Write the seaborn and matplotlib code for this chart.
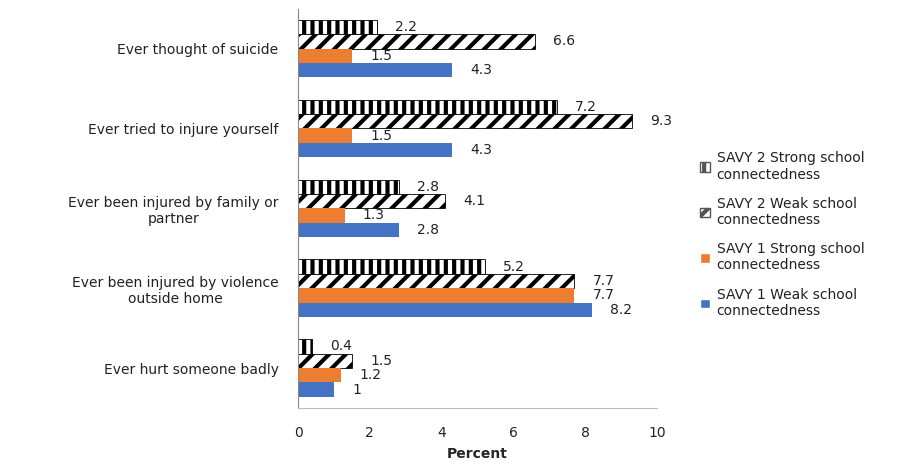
import matplotlib.pyplot as plt
import pandas as pd
import seaborn as sns

categories = ['Ever thought of suicide', 'Ever tried to injure yourself',
              'Ever been injured by family or\npartner',
              'Ever been injured by violence\noutside home',
              'Ever hurt someone badly']
series = ['SAVY 2 Strong school\nconnectedness', 'SAVY 2 Weak school\nconnectedness',
          'SAVY 1 Strong school\nconnectedness', 'SAVY 1 Weak school\nconnectedness']
savy2_strong = [2.2, 7.2, 2.8, 5.2, 0.4]
savy2_weak = [6.6, 9.3, 4.1, 7.7, 1.5]
savy1_strong = [1.5, 1.5, 1.3, 7.7, 1.2]
savy1_weak = [4.3, 4.3, 2.8, 8.2, 1]

rows = []
for s, vals in zip(series, [savy2_strong, savy2_weak, savy1_strong, savy1_weak]):
    for c, v in zip(categories, vals):
        rows.append({'cat': c, 'series': s, 'val': v})
df = pd.DataFrame(rows)

sns.set_style('white')
plt.rcParams['font.family'] = ['DejaVu Sans']
plt.rcParams['hatch.linewidth'] = 3.0

fig = plt.figure(figsize=(9.07, 4.66), dpi=100)
ax = fig.add_axes([0.3286, 0.1245, 0.3958, 0.857])

colors = ['white', 'white', '#ED7D31', '#4472C4']
p = sns.barplot(data=df, x='val', y='cat', hue='series', order=categories,
                hue_order=series, palette=colors, saturation=1, width=0.72,
                ax=ax, legend=True)

fs = 10
hatches = ['||', '//', None, None]
for cont, h in zip(ax.containers, hatches):
    for bar in cont:
        if h:
            bar.set_hatch(h)
            bar.set_edgecolor('black')
            bar.set_linewidth(0.6)
        else:
            bar.set_edgecolor('none')
    ax.bar_label(cont, labels=[f'{v:g}' for v in cont.datavalues], padding=13,
                 fontsize=fs, color='#222222')

ax.set_xlim(0, 10)
ax.set_xticks([0, 2, 4, 6, 8, 10])
ax.set_xlabel('Percent', fontsize=fs, fontweight='bold', labelpad=5)
ax.set_ylabel('')
ax.tick_params(axis='both', labelsize=fs, length=0, colors='#222222')
ax.tick_params(axis='x', pad=13)
ax.tick_params(axis='y', pad=14)
for lbl in ax.get_yticklabels():
    lbl.set_multialignment('center')
for side in ['top', 'right']:
    ax.spines[side].set_visible(False)
ax.spines['left'].set_color('#888888')
ax.spines['bottom'].set_color('#bbbbbb')

handles, labels = ax.get_legend_handles_labels()
for hd, h in zip(handles, hatches):
    if h:
        hd.set_hatch(h)
        hd.set_edgecolor('#555555')
ax.legend(handles, labels, loc='center left', bbox_to_anchor=(1.085, 0.434),
          frameon=False, fontsize=fs, handlelength=0.7, handleheight=0.7,
          labelspacing=1.1, handletextpad=0.5, labelcolor='#222222')

fig.savefig('out.png', dpi=100)
